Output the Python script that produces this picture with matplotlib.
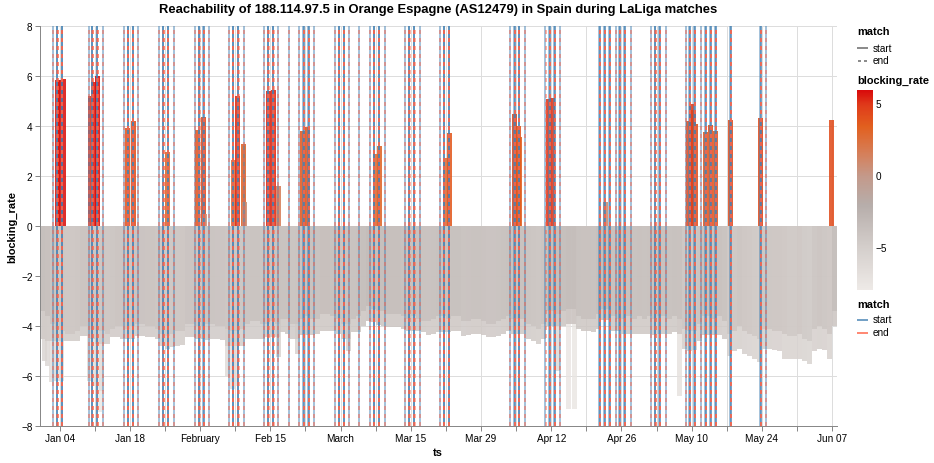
import matplotlib
matplotlib.use("Agg")
import matplotlib.pyplot as plt
import matplotlib.dates as mdates
from matplotlib.colors import LinearSegmentedColormap, Normalize
from matplotlib.lines import Line2D
import numpy as np
import pandas as pd

plt.rcParams['font.family'] = ['Liberation Sans', 'DejaVu Sans']
plt.rcParams['axes.unicode_minus'] = True
plt.rcParams['lines.scale_dashes'] = False

# ---------------- data ----------------
YEAR = "2026-"
day0 = "2025-12-31"
# daily blocking_rate: deepest value per day (bottom edge) and typical lower value
daily_floor = [
    -4.5, -4.6, -4.6, -4.6, -4.6, -4.6, -4.6, -4.6, -4.4, -4.4,
    -4.5, -4.7, -4.7, -4.7, -4.45, -4.45, -4.5, -4.5, -4.5, -4.4,
    -4.4, -4.45, -4.45, -4.5, -4.8, -4.9, -4.85, -4.8, -4.75, -4.45,
    -4.45, -4.5, -4.5, -4.55, -4.5, -4.5, -4.55, -4.8, -4.8, -4.8,
    -4.8, -4.5, -4.5, -4.5, -4.5, -4.45, -4.45, -4.45, -4.25, -4.3,
    -4.5, -4.5, -4.35, -4.35, -4.35, -4.3, -4.2, -4.2, -4.2, -4.3,
    -4.5, -4.5, -4.25, -4.25, -4.0, -3.8, -3.85, -3.95, -4.0, -4.05,
    -4.05, -4.05, -4.1, -4.2, -4.2, -4.2, -4.25, -4.35, -4.3, -4.25,
    -4.25, -4.25, -4.2, -4.2, -4.4, -4.35, -4.3, -4.3, -4.35, -4.45,
    -4.45, -4.4, -4.3, -4.2, -4.3, -4.3, -4.3, -4.5, -4.6, -4.7,
    -4.5, -4.0, -4.0, -4.0, -4.0, -3.9, -3.9, -4.1, -4.2, -4.2,
    -4.25, -4.1, -3.75, -3.75, -4.2, -4.2, -4.3, -4.3, -4.3, -4.3,
    -4.3, -4.3, -4.35, -4.3, -4.3, -4.3, -4.25, -4.3, -4.9, -5.0,
    -4.95, -4.6, -4.35, -4.35, -4.35, -4.35, -4.5, -5.2, -5.0, -4.9,
    -5.1, -5.2, -5.3, -5.45, -4.9, -4.9, -4.95, -5.0, -5.3, -5.3,
    -5.3, -5.3, -5.4, -5.5, -5.0, -4.9, -4.95, -5.3, -4.0,
]
daily_typical = [
    -3.4, -3.6, -3.9, -4.1, -4.2, -4.3, -4.3, -4.2, -4.0, -4.0,
    -4.1, -4.2, -4.2, -4.3, -4.1, -4.0, -4.0, -4.1, -4.0, -3.9,
    -3.9, -4.0, -4.0, -4.1, -4.3, -4.4, -4.3, -4.2, -4.2, -3.9,
    -3.9, -4.0, -4.0, -3.9, -3.9, -4.0, -4.0, -4.1, -4.2, -4.2,
    -4.1, -3.9, -3.8, -3.8, -3.9, -3.9, -3.8, -3.9, -3.7, -3.7,
    -3.9, -3.9, -3.7, -3.6, -3.7, -3.7, -3.5, -3.5, -3.6, -3.7,
    -3.9, -3.9, -3.7, -3.6, -3.4, -3.2, -3.3, -3.4, -3.4, -3.5,
    -3.5, -3.5, -3.6, -3.7, -3.6, -3.7, -3.8, -3.8, -3.7, -3.6,
    -3.6, -3.7, -3.6, -3.6, -3.8, -3.8, -3.7, -3.7, -3.8, -3.9,
    -3.9, -3.8, -3.7, -3.6, -3.7, -3.7, -3.7, -3.9, -4.0, -4.1,
    -3.9, -3.4, -3.4, -3.5, -3.4, -3.3, -3.3, -3.6, -3.7, -3.7,
    -3.7, -3.5, -3.3, -3.3, -3.6, -3.7, -3.7, -3.6, -3.7, -3.6,
    -3.7, -3.6, -3.7, -3.6, -3.6, -3.7, -3.6, -3.7, -4.1, -4.2,
    -4.2, -3.9, -3.6, -3.6, -3.7, -3.6, -3.8, -4.3, -4.2, -4.0,
    -4.2, -4.3, -4.4, -4.5, -4.1, -4.1, -4.2, -4.2, -4.3, -4.4,
    -4.4, -4.3, -4.5, -4.6, -4.1, -4.0, -4.1, -4.3, -3.4,
]
# isolated deep negative hours
dip_time = ["2025-12-31 23:00", "2026-01-01 16:00", "2026-01-02 08:00", "2026-01-03 08:40",
            "2026-01-04 08:40", "2026-01-10 01:00", "2026-01-10 20:00", "2026-01-11 21:00",
            "2026-01-12 10:00", "2026-02-06 13:00", "2026-02-07 12:00", "2026-02-08 02:00",
            "2026-02-16 14:00", "2026-02-20 12:00", "2026-03-02 14:00", "2026-04-13 05:00",
            "2026-04-15 11:00", "2026-04-16 14:30", "2026-05-07 13:00"]
dip_value = [-5.4, -5.6, -6.25, -6.2, -6.2, -6.2, -6.4, -7.45, -6.6, -6.0, -6.5, -6.4,
             -5.25, -5.12, -5.0, -5.8, -7.3, -7.32, -6.8]
# positive blocking hours
pos_time = ["2026-01-03 13:30", "2026-01-04 03:50", "2026-01-04 18:10", "2026-01-10 04:45",
            "2026-01-10 17:40", "2026-01-11 12:50", "2026-01-17 12:20", "2026-01-18 17:00",
            "2026-01-25 11:40", "2026-01-31 12:40", "2026-02-01 16:50", "2026-02-01 23:05",
            "2026-02-07 15:25", "2026-02-08 12:55", "2026-02-09 17:40", "2026-02-09 22:25",
            "2026-02-14 14:50", "2026-02-15 14:45", "2026-02-16 17:05", "2026-02-21 11:55",
            "2026-02-22 09:25", "2026-03-07 22:40", "2026-03-08 16:25", "2026-03-21 23:55",
            "2026-03-22 19:05", "2026-04-04 14:15", "2026-04-05 13:10", "2026-04-05 18:00",
            "2026-04-11 12:40", "2026-04-12 05:25", "2026-04-22 18:00", "2026-05-09 10:25",
            "2026-05-09 22:20", "2026-05-10 07:55", "2026-05-10 19:55", "2026-05-12 19:45",
            "2026-05-13 15:50", "2026-05-14 18:35", "2026-05-17 16:55", "2026-05-23 18:50",
            "2026-06-06 20:05"]
pos_value = [5.83, 5.85, 5.88, 5.21, 5.75, 6.0, 3.92, 4.2, 2.95, 3.85, 4.35, 0.5,
             2.64, 5.19, 3.3, 0.96, 5.4, 5.43, 1.61, 3.8, 3.95, 2.88, 3.21, 2.72,
             3.72, 4.48, 3.99, 3.55, 5.1, 5.12, 0.95, 4.21, 4.88, 4.65, 4.1, 3.77,
             4.04, 3.8, 4.24, 4.31, 4.24]

match_start = [
    "01-02 16:00", "01-03 11:30", "01-03 12:30", "01-03 13:30", "01-04 10:00", "01-04 11:00", "01-04 12:00",
    "01-09 18:45", "01-10 11:00", "01-10 12:00", "01-10 13:00", "01-11 11:00", "01-11 12:00", "01-11 13:00", "01-12 15:00",
    "01-16 18:00", "01-17 13:45", "01-17 14:45", "01-17 15:45", "01-18 13:40", "01-18 14:40", "01-18 15:40", "01-19 14:35",
    "01-23 19:00", "01-24 14:35", "01-24 15:35", "01-24 16:35", "01-25 13:05", "01-25 14:05", "01-25 15:05", "01-26 17:20",
    "01-30 21:50", "01-31 17:25", "01-31 18:25", "01-31 19:25", "02-01 15:50", "02-01 16:50", "02-01 17:50", "02-02 18:15",
    "02-06 17:55", "02-07 12:00", "02-07 13:00", "02-07 14:00", "02-08 12:00", "02-08 13:00", "02-08 14:00", "02-09 17:40",
    "02-13 17:20", "02-14 11:30", "02-14 12:30", "02-14 13:30", "02-15 11:25", "02-15 12:25", "02-15 13:25", "02-16 12:15",
    "02-18 16:55",
    "02-20 16:45", "02-21 14:15", "02-21 15:15", "02-21 16:15", "02-22 14:10", "02-22 15:10", "02-22 16:10", "02-23 16:30",
    "02-27 19:30", "02-28 15:05", "02-28 16:05", "02-28 17:05", "03-01 15:00", "03-01 16:00", "03-01 17:00", "03-02 15:55",
    "03-04 15:45",
    "03-06 19:00", "03-07 14:30", "03-07 15:30", "03-07 16:30", "03-08 14:25", "03-08 15:25", "03-08 16:25", "03-09 18:45",
    "03-13 18:25", "03-14 14:00", "03-14 15:00", "03-14 16:00", "03-15 13:55", "03-15 14:55", "03-15 15:55", "03-16 18:10",
    "03-20 17:50", "03-21 13:25", "03-21 14:25", "03-21 15:25", "03-22 13:20", "03-22 14:20", "03-22 15:20",
    "04-03 18:05", "04-04 15:35", "04-04 16:35", "04-04 17:35", "04-05 12:10", "04-05 13:10", "04-05 14:10", "04-06 16:25",
    "04-10 19:00", "04-11 15:00", "04-11 16:00", "04-11 17:00", "04-12 15:00", "04-12 16:00", "04-12 17:00", "04-13 15:50",
    "04-21 14:15", "04-21 15:15", "04-21 16:15", "04-22 14:10", "04-22 15:10", "04-22 16:10", "04-23 14:05", "04-23 15:05", "04-23 16:05",
    "04-24 19:45", "04-25 13:55", "04-25 14:55", "04-25 15:55", "04-26 13:50", "04-26 14:50", "04-26 15:50", "04-27 19:30",
    "05-01 19:10", "05-02 16:10", "05-02 17:10", "05-02 18:10", "05-03 13:15", "05-03 14:15", "05-03 15:15", "05-04 18:55",
    "05-08 18:35", "05-09 12:45", "05-09 13:45", "05-09 14:45", "05-10 12:40", "05-10 13:40", "05-10 14:40", "05-11 18:25",
    "05-12 17:15", "05-12 18:15", "05-12 19:15", "05-13 17:15", "05-13 18:15", "05-13 19:15", "05-14 17:10", "05-14 18:10", "05-14 19:10",
    "05-17 16:55", "05-17 17:55", "05-17 18:55",
    "05-23 16:25", "05-23 17:25", "05-23 18:25", "05-24 17:20",
]
match_end = [
    "01-02 18:00", "01-03 13:30", "01-03 14:30", "01-03 15:30", "01-04 12:00", "01-04 13:00", "01-04 14:00",
    "01-09 20:45", "01-10 13:00", "01-10 14:00", "01-10 15:00", "01-11 13:00", "01-11 14:00", "01-11 15:00", "01-12 17:00",
    "01-16 20:00", "01-17 15:45", "01-17 16:45", "01-17 17:45", "01-18 15:40", "01-18 16:40", "01-18 17:40", "01-19 16:35",
    "01-23 21:00", "01-24 16:35", "01-24 17:35", "01-24 18:35", "01-25 15:05", "01-25 16:05", "01-25 17:05", "01-26 19:20",
    "01-30 23:50", "01-31 19:25", "01-31 20:25", "01-31 21:25", "02-01 17:50", "02-01 18:50", "02-01 19:50", "02-02 20:15",
    "02-06 19:55", "02-07 14:00", "02-07 15:00", "02-07 16:00", "02-08 14:00", "02-08 15:00", "02-08 16:00", "02-09 19:40",
    "02-13 19:20", "02-14 13:30", "02-14 14:30", "02-14 15:30", "02-15 13:25", "02-15 14:25", "02-15 15:25", "02-16 14:15",
    "02-18 18:55",
    "02-20 18:45", "02-21 16:15", "02-21 17:15", "02-21 18:15", "02-22 16:10", "02-22 17:10", "02-22 18:10", "02-23 18:30",
    "02-27 21:30", "02-28 17:05", "02-28 18:05", "02-28 19:05", "03-01 17:00", "03-01 18:00", "03-01 19:00", "03-02 17:55",
    "03-04 17:45",
    "03-06 21:00", "03-07 16:30", "03-07 17:30", "03-07 18:30", "03-08 16:25", "03-08 17:25", "03-08 18:25", "03-09 20:45",
    "03-13 20:25", "03-14 16:00", "03-14 17:00", "03-14 18:00", "03-15 15:55", "03-15 16:55", "03-15 17:55", "03-16 20:10",
    "03-20 19:50", "03-21 15:25", "03-21 16:25", "03-21 17:25", "03-22 15:20", "03-22 16:20", "03-22 17:20",
    "04-03 20:05", "04-04 17:35", "04-04 18:35", "04-04 19:35", "04-05 14:10", "04-05 15:10", "04-05 16:10", "04-06 18:25",
    "04-10 21:00", "04-11 17:00", "04-11 18:00", "04-11 19:00", "04-12 17:00", "04-12 18:00", "04-12 19:00", "04-13 17:50",
    "04-21 16:15", "04-21 17:15", "04-21 18:15", "04-22 16:10", "04-22 17:10", "04-22 18:10", "04-23 16:05", "04-23 17:05", "04-23 18:05",
    "04-24 21:45", "04-25 15:55", "04-25 16:55", "04-25 17:55", "04-26 15:50", "04-26 16:50", "04-26 17:50", "04-27 21:30",
    "05-01 21:10", "05-02 18:10", "05-02 19:10", "05-02 20:10", "05-03 15:15", "05-03 16:15", "05-03 17:15", "05-04 20:55",
    "05-08 20:35", "05-09 14:45", "05-09 15:45", "05-09 16:45", "05-10 14:40", "05-10 15:40", "05-10 16:40", "05-11 20:25",
    "05-12 19:15", "05-12 20:15", "05-12 21:15", "05-13 19:15", "05-13 20:15", "05-13 21:15", "05-14 19:10", "05-14 20:10", "05-14 21:10",
    "05-17 18:55", "05-17 19:55", "05-17 20:55",
    "05-23 18:25", "05-23 19:25", "05-23 20:25", "05-24 19:20",
]

tick_labels = ["Jan 04", "", "Jan 18", "", "February", "", "Feb 15", "", "March", "", "Mar 15", "",
               "Mar 29", "", "Apr 12", "", "Apr 26", "", "May 10", "", "May 24", "", "Jun 07"]
x_domain = ["2025-12-31", "2026-06-08"]
color_domain = [-7.9, 6.0]

# ---------------- style ----------------
W, H, DPI = 934, 464, 100
PX = 72.0 / DPI  # points per pixel
fig = plt.figure(figsize=(W / DPI, H / DPI), dpi=DPI)
def fx(p): return p / W
def fy(p): return 1 - p / H

L, R, T, B = 39.5, 837.2, 27, 427
ax = fig.add_axes([fx(L), fy(B), (R - L) / W, (B - T) / H])

span = color_domain[1] - color_domain[0]
cmap = LinearSegmentedColormap.from_list("br", [
    (0.0, "#eeeae7"),
    ((-5 - color_domain[0]) / span, "#d5cfcc"),
    ((-2 - color_domain[0]) / span, "#b7aeab"),
    ((0 - color_domain[0]) / span, "#c49a8b"),
    ((1.5 - color_domain[0]) / span, "#d5815d"),
    ((3.5 - color_domain[0]) / span, "#e2601f"),
    ((5.0 - color_domain[0]) / span, "#e03b1b"),
    (1.0, "#d90c0c"),
])
norm = Normalize(vmin=color_domain[0], vmax=color_domain[1])

dnum = lambda s: mdates.date2num(pd.to_datetime(s))

# deep isolated hours go behind the daily bars
dv = np.array(dip_value)
ax.bar(dnum(dip_time), dv, width=0.997, align="center", color=cmap(norm(dv)),
       alpha=0.8, linewidth=0, zorder=1)

# negative daily bars (deepest first, typical values on top)
for series in (daily_floor, daily_typical):
    days = pd.date_range(day0, periods=len(series), freq="D")
    vals = np.array(series)
    ax.bar(mdates.date2num(days), vals, width=1.0, align="edge",
           color=cmap(norm(vals)), alpha=0.86, linewidth=0, zorder=1.5)

pv = np.array(pos_value)
ax.bar(dnum(pos_time), pv, width=0.997, align="center", color=cmap(norm(pv)),
       alpha=0.88, linewidth=0, zorder=2)

BLUE, RED = "steelblue", "tomato"
for s in match_start:
    ax.axvline(dnum(YEAR + s), color=BLUE, lw=1.6 * PX, alpha=0.6, zorder=3)
for e in match_end:
    ax.axvline(dnum(YEAR + e), color=RED, lw=1.6 * PX, alpha=0.6, zorder=4,
               dashes=(4 * PX, 4 * PX))

ax.set_xlim(dnum(x_domain[0]), dnum(x_domain[1]))
ax.set_ylim(-8, 8)
tick_dates = pd.date_range("2026-01-04", periods=len(tick_labels), freq="7D")
ax.set_xticks(mdates.date2num(tick_dates))
ax.set_xticklabels(tick_labels)
ax.set_yticks(np.arange(-8, 9, 2))

ax.set_axisbelow(True)
ax.grid(True, color="#dddddd", lw=1.0 * PX)
for sp in ("top", "right"):
    ax.spines[sp].set_visible(False)
for sp in ("left", "bottom"):
    ax.spines[sp].set_color("#888888")
    ax.spines[sp].set_linewidth(1.0 * PX)
    ax.spines[sp].set_zorder(5)
ax.tick_params(axis="both", length=5 * PX, width=1.0 * PX, color="#888888",
               labelsize=10 * PX, labelcolor="#000000")
ax.tick_params(axis="x", pad=2 * PX)
ax.tick_params(axis="y", pad=2 * PX)

fig.text(fx(438), fy(10.5), "Reachability of 188.114.97.5 in Orange Espagne (AS12479) in Spain during LaLiga matches",
         ha="center", va="center", fontsize=13 * PX, fontweight="bold")
fig.text(fx(12), fy(227), "blocking_rate", rotation=90, ha="center", va="center",
         fontsize=11 * PX, fontweight="bold")
fig.text(fx(438), fy(453), "ts", ha="center", va="center", fontsize=11 * PX, fontweight="bold")

# ---------------- legends ----------------
LX = 857
def legend_line(y, color, dashed, lw=2.0, alpha=1.0):
    kw = dict(transform=fig.transFigure, color=color, lw=lw * PX, alpha=alpha)
    if dashed:
        kw["dashes"] = (3 * PX, 3 * PX)
    fig.add_artist(Line2D([fx(LX + 1), fx(LX + 10)], [fy(y), fy(y)], **kw))

fig.text(fx(LX), fy(32.5), "match", ha="left", va="center", fontsize=11 * PX, fontweight="bold")
legend_line(48.5, "#8c8c8c", False)
fig.text(fx(873), fy(48.5), "start", ha="left", va="center", fontsize=10 * PX)
legend_line(61.5, "#8c8c8c", True)
fig.text(fx(873), fy(61.5), "end", ha="left", va="center", fontsize=10 * PX)

fig.text(fx(LX), fy(80.5), "blocking_rate", ha="left", va="center", fontsize=11 * PX, fontweight="bold")
cax = fig.add_axes([fx(857.3), fy(290.5), 15.3 / W, 199.5 / H])
grad = np.linspace(color_domain[1], color_domain[0], 300)[:, None]
cax.imshow(grad, aspect="auto", cmap=cmap, norm=norm, interpolation="bilinear")
cax.set_axis_off()
for v, lab in [(5, "5"), (0, "0"), (-5, "\u22125")]:
    yy = 91 + (color_domain[1] - v) / span * 199.5
    fig.text(fx(875.5), fy(yy), lab, ha="left", va="center", fontsize=10 * PX)

fig.text(fx(LX), fy(304.5), "match", ha="left", va="center", fontsize=11 * PX, fontweight="bold")
legend_line(320.5, BLUE, False, alpha=0.75)
fig.text(fx(873), fy(320.5), "start", ha="left", va="center", fontsize=10 * PX)
legend_line(333.5, RED, False, alpha=0.75)
fig.text(fx(873), fy(333.5), "end", ha="left", va="center", fontsize=10 * PX)

fig.savefig("out.png", dpi=DPI)
